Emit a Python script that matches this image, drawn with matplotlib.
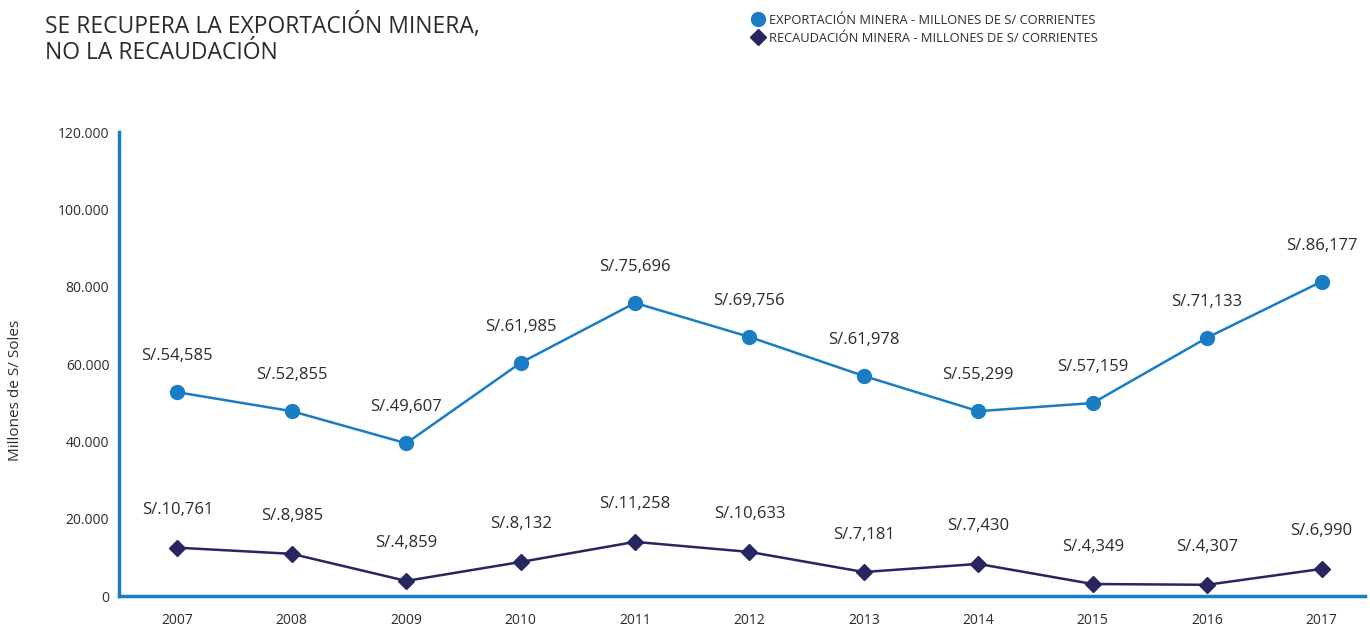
import matplotlib
matplotlib.use("Agg")
import matplotlib.pyplot as plt
from matplotlib.lines import Line2D

plt.rcParams['font.family'] = ['Open Sans', 'DejaVu Sans']

# datos
years = [2007, 2008, 2009, 2010, 2011, 2012, 2013, 2014, 2015, 2016, 2017]
exportacion = [52700, 47800, 39500, 60300, 75800, 67000, 56900, 47800, 49900, 66800, 81300]
recaudacion = [12500, 10900, 3900, 8800, 14000, 11400, 6200, 8300, 3100, 2900, 7000]
export_labels = ["S/.54,585", "S/.52,855", "S/.49,607", "S/.61,985", "S/.75,696", "S/.69,756",
                 "S/.61,978", "S/.55,299", "S/.57,159", "S/.71,133", "S/.86,177"]
recaud_labels = ["S/.10,761", "S/.8,985", "S/.4,859", "S/.8,132", "S/.11,258", "S/.10,633",
                 "S/.7,181", "S/.7,430", "S/.4,349", "S/.4,307", "S/.6,990"]
yticks = [0, 20000, 40000, 60000, 80000, 100000, 120000]
ytick_labels = ["0", "20.000", "40.000", "60.000", "80.000", "100.000", "120.000"]

c_exp = '#1a7dc4'
c_rec = '#262660'
c_text = '#2b2b2b'

fig = plt.figure(figsize=(13.7, 6.25), dpi=100)
ax = fig.add_axes([119 / 1370, 29 / 625, 1246 / 1370, 464 / 625])

x = list(range(len(years)))
ax.plot(x, exportacion, color=c_exp, lw=1.8, marker='o', ms=10, zorder=3)
ax.plot(x, recaudacion, color=c_rec, lw=1.8, marker='D', ms=8, zorder=3)

for xi, v, lab in zip(x, exportacion, export_labels):
    ax.annotate(lab, (xi, v), xytext=(0, 26), textcoords='offset points',
                ha='center', va='center', fontsize=12, color=c_text)
for xi, v, lab in zip(x, recaudacion, recaud_labels):
    ax.annotate(lab, (xi, v), xytext=(0, 27), textcoords='offset points',
                ha='center', va='center', fontsize=12, color=c_text)

ax.set_xlim(-0.51, 10.38)
ax.set_ylim(0, 120000)
ax.set_xticks(x)
ax.set_xticklabels([str(y) for y in years])
ax.set_yticks(yticks)
ax.set_yticklabels(ytick_labels)
ax.tick_params(length=0, labelsize=10, colors=c_text)
ax.tick_params(axis='x', pad=12)
ax.tick_params(axis='y', pad=7)

for s in ['top', 'right']:
    ax.spines[s].set_visible(False)
for s in ['left', 'bottom']:
    ax.spines[s].set_color(c_exp)
    ax.spines[s].set_linewidth(2.5)

fig.text(16 / 1370, 1 - 390 / 625, "Millones de S/ Soles", rotation=90,
         ha='center', va='center', fontsize=11, color=c_text)

fig.text(45 / 1370, 1 - 39 / 625, "SE RECUPERA LA EXPORTACIÓN MINERA,\nNO LA RECAUDACIÓN",
         ha='left', va='center', fontsize=16.5, color=c_text, linespacing=1.15)

handles = [
    Line2D([], [], color=c_exp, marker='o', ms=10, ls='none'),
    Line2D([], [], color=c_rec, marker='D', ms=8, ls='none'),
]
fig.legend(handles,
           ["EXPORTACIÓN MINERA - MILLONES DE S/ CORRIENTES",
            "RECAUDACIÓN MINERA - MILLONES DE S/ CORRIENTES"],
           loc='upper left', bbox_to_anchor=(737 / 1370, 1 - 2 / 625),
           frameon=False, fontsize=9.3, handletextpad=0.1, labelspacing=0.4,
           handlelength=1.5, labelcolor=c_text)

fig.savefig("out.png", dpi=100)
